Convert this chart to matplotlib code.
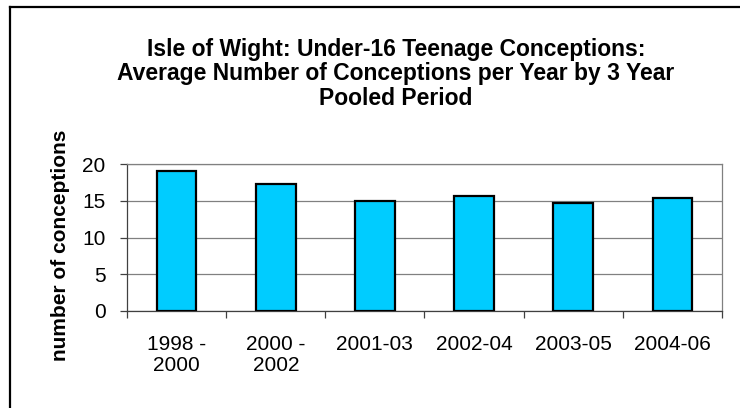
import matplotlib
matplotlib.use("Agg")
import matplotlib.pyplot as plt
from matplotlib.lines import Line2D
import numpy as np

plt.rcParams['font.family'] = ['Liberation Sans', 'DejaVu Sans']

categories = ["1998 -\n2000", "2000 -\n2002", "2001-03", "2002-04", "2003-05", "2004-06"]
values = [19.0, 17.33, 15.0, 15.67, 14.67, 15.33]
yticks = [0, 5, 10, 15, 20]
title = ("Isle of Wight: Under-16 Teenage Conceptions:\n"
         "Average Number of Conceptions per Year by 3 Year\n"
         "Pooled Period")
ylabel = "number of conceptions"

W, H = 740, 408
fig = plt.figure(figsize=(W / 100, H / 100), dpi=100)
fig.patch.set_facecolor('white')

# outer chart frame (left & top visible, rest clipped)
fig.add_artist(Line2D([9.5 / W, 9.5 / W], [0, 1 - 7 / H], color='black', lw=1.6,
                      transform=fig.transFigure))
fig.add_artist(Line2D([9.5 / W, 1], [1 - 7 / H, 1 - 7 / H], color='black', lw=1.6,
                      transform=fig.transFigure))

L, R, T, B = 127, 722, 164, 311
ax = fig.add_axes([L / W, (H - B) / H, (R - L) / W, (B - T) / H])

x = np.arange(len(categories))
ax.bar(x, values, width=0.4, color='#00CCFF', edgecolor='black', linewidth=1.6, zorder=3)

ax.set_xlim(-0.5, len(categories) - 0.5)
ax.set_ylim(0, 20)
ax.set_yticks(yticks)
ax.yaxis.grid(True, color='#808080', lw=0.9, zorder=0)
ax.set_xticks(x)
ax.set_xticklabels(categories, fontsize=15, linespacing=1.15)
ax.set_xticks(np.arange(len(categories) + 1) - 0.5, minor=True)
ax.tick_params(axis='x', which='major', length=0, pad=17)
ax.tick_params(axis='x', which='minor', length=5, width=0.9, color='#404040', direction='out')
ax.tick_params(axis='y', length=5, width=0.9, color='#404040', direction='out', pad=10.5,
               labelsize=15)

for s in ['top', 'right']:
    ax.spines[s].set_color('#808080')
    ax.spines[s].set_linewidth(0.9)
for s in ['left', 'bottom']:
    ax.spines[s].set_color('#404040')
    ax.spines[s].set_linewidth(0.9)

fig.text(396 / W, 1 - 38 / H, title, ha='center', va='top', fontsize=16.5,
         fontweight='bold', linespacing=1.08)
fig.text(60 / W, 1 - 245 / H, ylabel, rotation=90, ha='center', va='center',
         fontsize=15, fontweight='bold')

fig.savefig('out.png', dpi=100, facecolor='white')
